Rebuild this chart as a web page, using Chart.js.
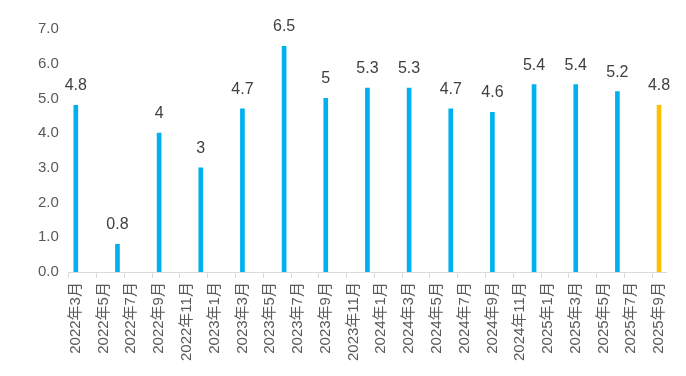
<!DOCTYPE html>
<html>
<head>
<meta charset="utf-8">
<script src="https://cdn.jsdelivr.net/npm/chart.js@4"></script>
<style>
  html, body { margin: 0; padding: 0; background: #fff; }
  #wrap { width: 686px; height: 376px; }
</style>
</head>
<body>
<div id="wrap"><canvas id="chart"></canvas></div>
<script>
// monthly category axis, only every third month has a value
var months = [
  '2022年3月', '2022年4月', '2022年5月', '2022年6月', '2022年7月', '2022年8月', '2022年9月',
  '2022年10月', '2022年11月', '2022年12月',
  '2023年1月', '2023年2月', '2023年3月', '2023年4月', '2023年5月', '2023年6月',
  '2023年7月', '2023年8月', '2023年9月', '2023年10月', '2023年11月', '2023年12月',
  '2024年1月', '2024年2月', '2024年3月', '2024年4月', '2024年5月', '2024年6月',
  '2024年7月', '2024年8月', '2024年9月', '2024年10月', '2024年11月', '2024年12月',
  '2025年1月', '2025年2月', '2025年3月', '2025年4月', '2025年5月', '2025年6月',
  '2025年7月', '2025年8月', '2025年9月'
];
var values = [
  4.8, null, null, 0.8, null, null, 4.0, null, null, 3.0,
  null, null, 4.7, null, null, 6.5, null, null, 5.0, null, null, 5.3,
  null, null, 5.3, null, null, 4.7, null, null, 4.6, null, null, 5.4,
  null, null, 5.4, null, null, 5.2, null, null, 4.8
];
var yTicks = [0, 1, 2, 3, 4, 5, 6, 7];

var blue = '#00B0F0';
var gold = '#FFC000';
var font = '"Liberation Sans", Arial, "Noto Sans CJK SC", sans-serif';

// last bar is highlighted
var barColors = values.map(function(v, i) {
  return i === values.length - 1 ? gold : blue;
});

var valueLabels = {
  id: 'valueLabels',
  afterDatasetsDraw: function(chart) {
    var ctx = chart.ctx;
    var meta = chart.getDatasetMeta(0);
    ctx.save();
    ctx.font = '16px ' + font;
    ctx.fillStyle = '#404040';
    ctx.textAlign = 'center';
    ctx.textBaseline = 'alphabetic';
    meta.data.forEach(function(bar, i) {
      var v = values[i];
      if (v === null) return;
      ctx.fillText(String(v), bar.x, bar.y - 15);
    });
    ctx.restore();
  }
};

var ctx = document.getElementById('chart').getContext('2d');
var myChart = new Chart(ctx, {
  type: 'bar',
  data: {
    labels: months,
    datasets: [{
      data: values,
      backgroundColor: barColors,
      barThickness: 4,
      borderWidth: 0
    }]
  },
  options: {
    responsive: true,
    maintainAspectRatio: false,
    animation: false,
    layout: { padding: { top: 29, right: 20, bottom: 11, left: 36 } },
    plugins: {
      legend: { display: false },
      tooltip: { enabled: false }
    },
    scales: {
      x: {
        offset: true,
        grid: {
          offset: true,
          drawOnChartArea: false,
          tickLength: 6,
          tickColor: function(c) { return c.index % 2 === 0 ? '#d9d9d9' : 'rgba(0,0,0,0)'; }
        },
        border: { color: '#d9d9d9', width: 1 },
        ticks: {
          autoSkip: false,
          maxRotation: 90,
          minRotation: 90,
          padding: 4,
          color: '#595959',
          font: { family: font, size: 15 },
          callback: function(val, i) { return i % 2 === 0 ? months[i] : ''; }
        }
      },
      y: {
        min: yTicks[0],
        max: yTicks[yTicks.length - 1],
        afterBuildTicks: function(axis) {
          axis.ticks = yTicks.map(function(v) { return { value: v }; });
        },
        grid: { display: false },
        border: { display: false },
        ticks: {
          padding: 2,
          color: '#595959',
          font: { family: font, size: 15 },
          callback: function(v) { return v.toFixed(1); }
        }
      }
    }
  },
  plugins: [valueLabels]
});
</script>
</body>
</html>
